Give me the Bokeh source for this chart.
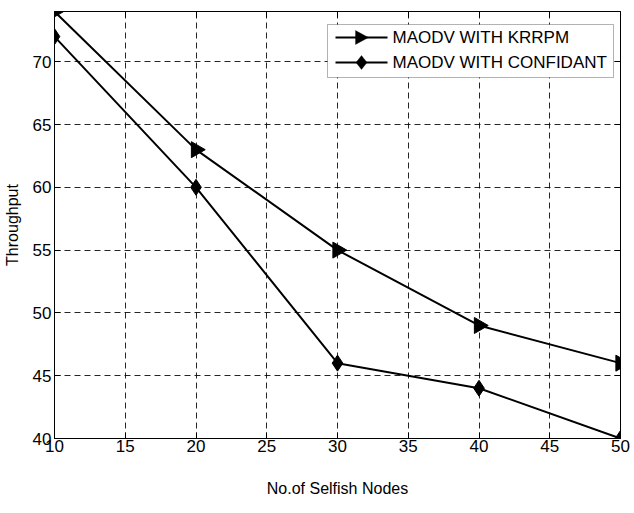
import math
from bokeh.plotting import figure
from bokeh.models import (Range1d, LinearAxis, FixedTicker, Label, BoxAnnotation,
                          PolyAnnotation, Arrow, CustomLabelingPolicy)
from bokeh.embed import file_html
from bokeh.resources import INLINE

nodes = [10, 20, 30, 40, 50]
krrpm = [74, 63, 55, 49, 46]
confidant = [72, 60, 46, 44, 40]
series_names = ["MAODV WITH KRRPM", "MAODV WITH CONFIDANT"]
x_ticks = [10, 15, 20, 25, 30, 35, 40, 45, 50]
y_ticks = [40, 45, 50, 55, 60, 65, 70]

FONT = "Liberation Sans"
FW, FH = 566, 427

p = figure(frame_width=FW, frame_height=FH, output_backend="svg", toolbar_location=None,
           x_range=Range1d(10, 50), y_range=Range1d(40, 74),
           min_border_left=54, min_border_right=6, min_border_top=4, min_border_bottom=70)
p.background_fill_color = "white"
p.border_fill_color = "white"
p.outline_line_color = "black"
p.outline_line_width = 1

for ax in (p.xaxis[0], p.yaxis[0]):
    ax.major_tick_in = 6
    ax.major_tick_out = 0
    ax.minor_tick_in = 0
    ax.minor_tick_out = 0
    ax.axis_line_color = "black"
    ax.major_label_text_font = FONT
    ax.major_label_text_font_size = "17px"
    ax.major_label_text_color = "black"
    ax.axis_label_text_font = FONT
    ax.axis_label_text_font_size = "16px"
    ax.axis_label_text_font_style = "normal"
    ax.axis_label_text_color = "black"

p.xaxis.ticker = FixedTicker(ticks=x_ticks)
p.yaxis.ticker = FixedTicker(ticks=y_ticks)
p.xaxis.axis_label = "No.of Selfish Nodes"
p.yaxis.axis_label = "Throughput"
p.xaxis.major_label_standoff = 1
p.yaxis.major_label_standoff = 3
p.xaxis.axis_label_standoff = 25
p.yaxis.axis_label_standoff = 9

hide = CustomLabelingPolicy(code="for (const i of indices) { indices.unset(i) } return indices")
for loc in ("above", "right"):
    ax = LinearAxis(ticker=FixedTicker(ticks=x_ticks if loc == "above" else y_ticks),
                    major_tick_in=6, major_tick_out=0, minor_tick_in=0, minor_tick_out=0,
                    major_label_standoff=0, major_label_policy=hide,
                    axis_line_color="black")
    p.add_layout(ax, loc)

for g in (p.xgrid[0], p.ygrid[0]):
    g.grid_line_color = "black"
    g.grid_line_dash = "6 4"
    g.grid_line_width = 1
    g.grid_line_alpha = 0.85
p.xgrid.ticker = FixedTicker(ticks=x_ticks)
p.ygrid.ticker = FixedTicker(ticks=y_ticks)

p.line(nodes, krrpm, line_color="black", line_width=2)
p.scatter(nodes, krrpm, marker="triangle", size=16, angle=-math.pi / 2,
          fill_color="black", line_color="black")
p.line(nodes, confidant, line_color="black", line_width=2)
p.scatter(nodes, confidant, marker="diamond", size=16,
          fill_color="black", line_color="black")

# ---- legend (drawn in screen units relative to the plot frame) ----
box_r = FW - 7
box_l = box_r - 286
box_t = FH - 13
box_b = box_t - 53
p.add_layout(BoxAnnotation(left=box_l, right=box_r, top=box_t, bottom=box_b,
                           left_units="screen", right_units="screen",
                           top_units="screen", bottom_units="screen",
                           fill_color="white", fill_alpha=1,
                           line_color="black", line_width=1, level="overlay"))
row_y = [box_t - 13, box_t - 38]
gx0, gx1 = box_l + 8, box_l + 60
gc = (gx0 + gx1) / 2
for k, (name, yy) in enumerate(zip(series_names, row_y)):
    p.add_layout(Arrow(x_start=gx0, y_start=yy, x_end=gx1, y_end=yy,
                       start_units="screen", end_units="screen", end=None,
                       line_color="black", line_width=2, level="overlay"))
    if k == 0:
        xs = [gc + 7, gc - 6, gc - 6]
        ys = [yy, yy + 7, yy - 7]
    else:
        xs = [gc, gc + 5.5, gc, gc - 5.5]
        ys = [yy + 7, yy, yy - 7, yy]
    p.add_layout(PolyAnnotation(xs=xs, ys=ys, xs_units="screen", ys_units="screen",
                                fill_color="black", fill_alpha=1, line_color="black",
                                level="overlay"))
    p.add_layout(Label(x=box_l + 65, y=yy, x_units="screen", y_units="screen", text=name,
                       text_font=FONT, text_font_size="17px", text_color="black",
                       text_baseline="middle", text_align="left", level="overlay"))

open("out.html", "w").write(file_html(p, INLINE))
